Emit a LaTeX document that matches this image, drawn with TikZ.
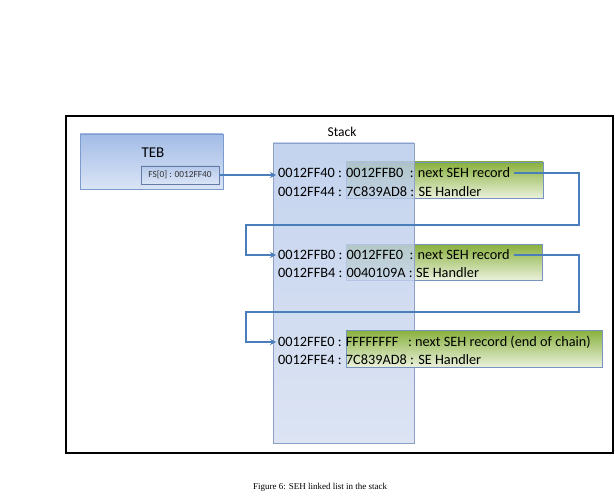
\documentclass[tikz,border=0pt]{standalone}
\usepackage{fontspec}
\setmainfont{Carlito}
\newfontfamily\capfont{Liberation Serif}
\usetikzlibrary{arrows.meta}

\definecolor{linkblue}{RGB}{74,126,187}
\definecolor{stacktop}{RGB}{181,200,234}
\definecolor{stackbot}{RGB}{211,221,240}
\definecolor{stackline}{RGB}{140,160,200}
\definecolor{tebtop}{RGB}{163,188,230}
\definecolor{tebbot}{RGB}{218,228,246}
\definecolor{tebline}{RGB}{125,155,205}
\definecolor{sehtop}{RGB}{136,176,60}
\definecolor{sehmid}{RGB}{168,198,106}
\definecolor{sehbot}{RGB}{234,241,220}
\definecolor{sehline}{RGB}{118,148,190}

\tikzset{
  rowtext/.style={anchor=west,inner sep=2pt,font=\fontsize{14.3}{16}\selectfont},
  link/.style={draw=linkblue,line width=1.5pt},
  sehbox/.style={top color=sehtop,middle color=sehmid,bottom color=sehbot,draw=sehline,line width=0.8pt}
}

\begin{document}
\begin{tikzpicture}[x=1pt,y=1pt]
    \useasboundingbox (0,0) rectangle (615,496);
    \draw [line width=2pt] (66,380) rectangle (613,43);
    % TEB
    \shade [top color=tebtop,bottom color=tebbot,draw=tebline,line width=0.8pt] (80,362) rectangle (223,307);
    \node (teb) at (153,343) {\fontsize{15}{17}\selectfont TEB};
    \shade [top color=tebtop!80!white,bottom color=tebbot,draw=tebline!80!black,line width=0.8pt] (141,330) rectangle (219,312);
    \node (fs) [inner sep=0pt,minimum width=78pt,minimum height=18pt,text=black!80] at (180,321) {\fontsize{9.3}{10}\selectfont FS[0] : 0012FF40};
    % records behind the stack
    \shade [sehbox] (346,334) rectangle (543,298);
    \shade [sehbox] (346,252) rectangle (542,216);
    % stack
    \shade [top color=stacktop,bottom color=stackbot,fill opacity=0.8] (273,353) rectangle (414,53);
    \draw [stackline,line width=0.8pt] (273,353) rectangle (414,53);
    \node (stack) at (342,364) {\fontsize{13.5}{15}\selectfont Stack};
    \shade [sehbox] (346,166) rectangle (602,129);
    % rows
    \foreach \n/\y/\t in {1/323/{0012FF40 : 0012FFB0\ \ : next SEH record},
                          2/304/{0012FF44 : 7C839AD8 : SE Handler},
                          3/241/{0012FFB0 : 0012FFE0\ \ : next SEH record},
                          4/223/{0012FFB4 : 0040109A : SE Handler},
                          5/154/{0012FFE0 : FFFFFFFF\ \ \ : next SEH record (end of chain)},
                          6/136/{0012FFE4 : 7C839AD8 : SE Handler}}
      \node (r\n) [rowtext] at (276,\y) {\t};
    % links
    \draw [link,-{Stealth[length=6pt,width=6pt]}] (fs.east) -- (fs.east -| r1.west);
    \coordinate (t1) at (579,271);
    \coordinate (b1) at (246,271);
    \coordinate (t2) at (579,184);
    \coordinate (b2) at (246,184);
    \draw [link,-{Stealth[length=6pt,width=6pt]}] ([xshift=2pt]r1.east) -| (t1) -- (b1) |- (r3.west);
    \draw [link,-{Stealth[length=6pt,width=6pt]}] ([xshift=2pt]r3.east) -| (t2) -- (b2) |- (r5.west);
    \node (caption) at (320,9) {\capfont\fontsize{9}{10}\selectfont Figure 6: SEH linked list in the stack};
\end{tikzpicture}
\end{document}
